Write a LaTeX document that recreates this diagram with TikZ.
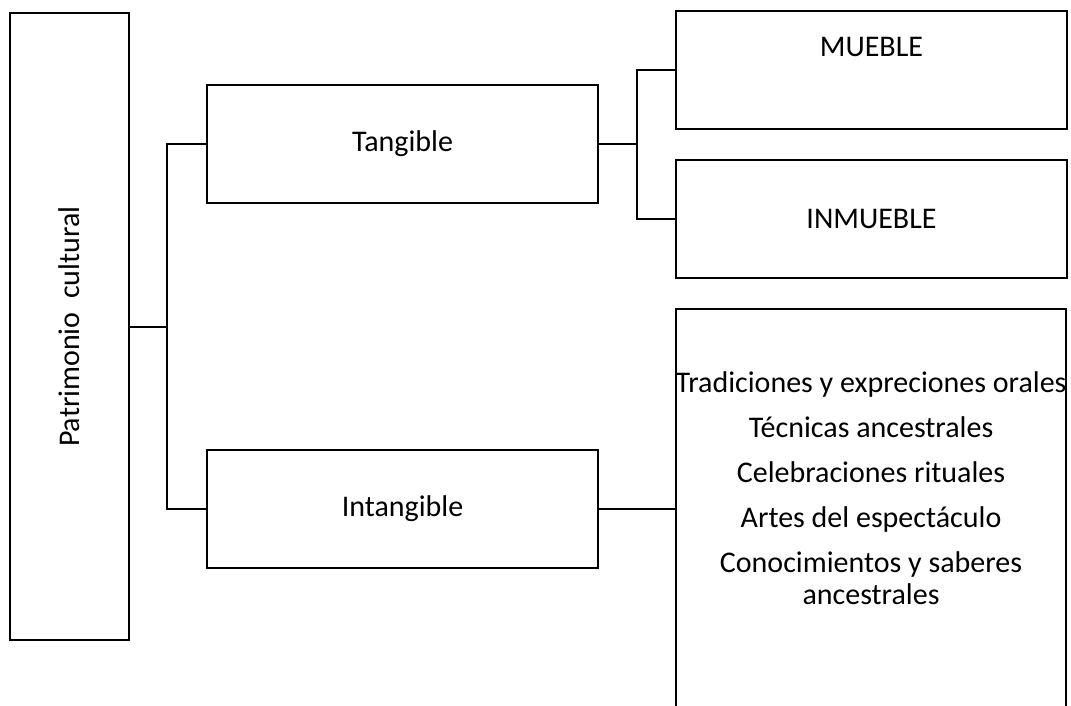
\documentclass[tikz,border=0pt]{standalone}
\usepackage{fontspec}
\setmainfont{Carlito}
\begin{document}
\begin{tikzpicture}[x=0.5pt,y=-0.5pt,
  box/.style={draw, line width=1pt, inner sep=0pt, minimum width=195.5pt, minimum height=59pt},
  lbl/.style={font=\fontsize{15}{17.5}\selectfont, inner sep=0pt}]
\useasboundingbox (0,0) rectangle (1071,706);
\clip (0,0) rectangle (1071,706);
\node[draw, line width=1pt, minimum width=59.75pt, minimum height=313.25pt] (root) at (69.25,326.75){};
\node[lbl, rotate=90] (roottxt) at (root){Patrimonio~ cultural};
\node[box, lbl] (tang) at (402.5,144){Tangible};
\node[box, lbl] (intang) at (402.5,508.5){Intangible};
\node[box] (mueb) at (871.5,70){};
\node[lbl] (muebtxt) at (871.5,47){MUEBLE};
\node[box, lbl] (inmueb) at (871.5,219){INMUEBLE};
\node[draw, line width=1pt, minimum width=195pt, minimum height=210pt] (inttop) at (871,519){};
\node[lbl, align=center] (intlist) at (871,488){Tradiciones y expreciones orales\\[5pt]
  Técnicas ancestrales\\[5pt]
  Celebraciones rituales\\[5pt]
  Artes del espectáculo\\[5pt]
  Conocimientos y saberes\\[-1.5pt]
  ancestrales};
\coordinate (forka) at (167,326.75);
\coordinate (forkb) at (637,144);
\draw[line width=1pt](root) -- (forka);
\draw[line width=1pt](tang.west) -| (forka);
\draw[line width=1pt](intang.west) -| (forka);
\draw[line width=1pt](tang) -- (forkb);
\draw[line width=1pt](mueb.west) -| (forkb);
\draw[line width=1pt](inmueb.west) -| (forkb);
\draw[line width=1pt](intang.east) -- (intang.east -| inttop.west);
\end{tikzpicture}
\end{document}
